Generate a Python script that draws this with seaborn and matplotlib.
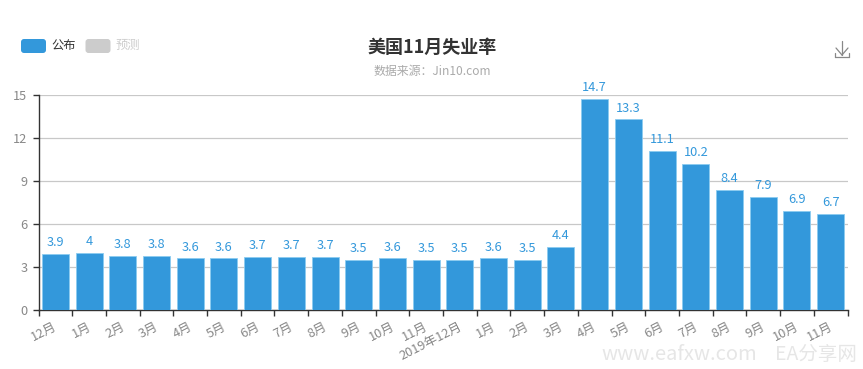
import numpy as np
import pandas as pd
import matplotlib
matplotlib.use('Agg')
import matplotlib.pyplot as plt
import seaborn as sns
from matplotlib.patches import FancyBboxPatch
from matplotlib.lines import Line2D
from matplotlib.transforms import ScaledTranslation

# ===== DATA =====
months = ['12月', '1月', '2月', '3月', '4月', '5月', '6月', '7月', '8月', '9月', '10月', '11月',
          '2019年12月', '1月', '2月', '3月', '4月', '5月', '6月', '7月', '8月', '9月', '10月', '11月']
rates = [3.9, 4, 3.8, 3.8, 3.6, 3.6, 3.7, 3.7, 3.7, 3.5, 3.6, 3.5,
         3.5, 3.6, 3.5, 4.4, 14.7, 13.3, 11.1, 10.2, 8.4, 7.9, 6.9, 6.7]
y_ticks = [0, 3, 6, 9, 12, 15]
legend_names = ['公布', '预测']

BLUE = '#3398DB'
W, H = 863, 369

sns.set_theme(style='white')
plt.rcParams['font.family'] = ['Noto Sans CJK SC', 'DejaVu Sans']

df = pd.DataFrame({'pos': range(len(rates)), 'rate': rates})

fig = plt.figure(figsize=(W / 100, H / 100), dpi=100)
ax = fig.add_axes([38.5 / W, 1 - 310 / H, (847.5 - 38.5) / W, (310 - 95) / H])

sns.barplot(data=df, x='pos', y='rate', color=BLUE, saturation=1, width=0.8,
            edgecolor='#8ccbf0', linewidth=0.6, ax=ax, zorder=3)

# ===== AXES =====
ax.set_xlim(-0.5, len(rates) - 0.5)
ax.set_ylim(0, 15)
ax.set_xlabel('')
ax.set_ylabel('')
ax.set_yticks(y_ticks)
ax.yaxis.grid(True, color='#c8c8c8', linewidth=0.9, zorder=0)
ax.xaxis.grid(False)
ax.set_axisbelow(True)
for side in ['top', 'right']:
    ax.spines[side].set_visible(False)
for side in ['left', 'bottom']:
    ax.spines[side].set_color('#333333')
    ax.spines[side].set_linewidth(1)

ax.set_xticks(np.arange(len(rates)))
ax.set_xticklabels(months, rotation=27, ha='right', rotation_mode='anchor')
ax.set_xticks(np.arange(len(rates) + 1) - 0.5, minor=True)
ax.tick_params(axis='x', which='major', length=0, pad=7, labelsize=9.2, labelcolor='#888888')
ax.tick_params(axis='x', which='minor', length=4, width=1, color='#333333', bottom=True)
ax.tick_params(axis='y', length=4, width=1, color='#333333', left=True, pad=4,
               labelsize=9.2, labelcolor='#888888')
shift = ScaledTranslation(-2 / 100, 0, fig.dpi_scale_trans)
for lab in ax.get_xticklabels():
    lab.set_transform(lab.get_transform() + shift)

# ===== BAR LABELS =====
ax.bar_label(ax.containers[0], labels=[f'{v:g}' for v in rates], padding=3.5,
             color=BLUE, fontsize=9.2)

# ===== TITLE =====
fig.text(432 / W, 1 - 47 / H, '美国11月失业率', ha='center', va='center',
         fontsize=13, fontweight='bold', color='#333333')
fig.text(432 / W, 1 - 71.5 / H, '数据来源：Jin10.com', ha='center', va='center',
         fontsize=8.6, color='#aaaaaa')

# ===== LEGEND =====
for x0, name, box_col, txt_col in [(21, legend_names[0], BLUE, '#333333'),
                                   (85.5, legend_names[1], '#cccccc', '#cccccc')]:
    fig.add_artist(FancyBboxPatch((x0, H - 53), 25, 14, boxstyle='round,pad=0,rounding_size=3',
                                  transform=None, facecolor=box_col, edgecolor='none'))
    fig.text((x0 + 30) / W, 1 - 45 / H, name, ha='left', va='center', fontsize=8.8, color=txt_col)

# ===== DOWNLOAD ICON =====
icon = [([842, 842], [41, 55]), ([836, 842], [48, 55]), ([848, 842], [48, 55]),
        ([835, 835], [53, 57]), ([849, 849], [53, 57]), ([835, 849], [57, 57])]
for xs, ys in icon:
    fig.add_artist(Line2D([x / W for x in xs], [1 - y / H for y in ys], color='#888888', linewidth=0.9))

# ===== WATERMARK =====
fig.text(601 / W, 1 - 355 / H, 'www.eafxw.com', ha='left', va='center', fontsize=14.5, color='#e6e6e6')
fig.text(775 / W, 1 - 355 / H, 'EA分享网', ha='left', va='center', fontsize=14, color='#e6e6e6')

fig.savefig('out.png', dpi=100, facecolor='white')
